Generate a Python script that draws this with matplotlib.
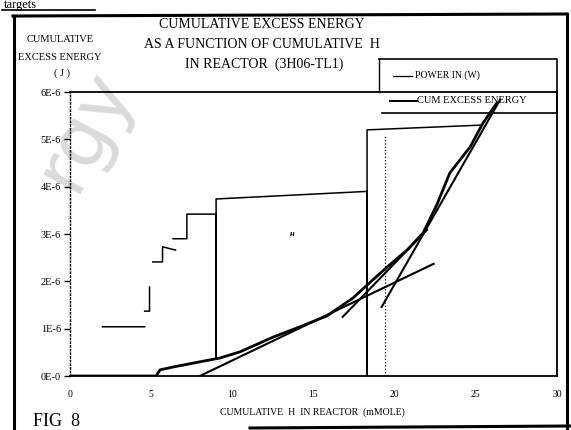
import numpy as np
import matplotlib.pyplot as plt
from matplotlib.lines import Line2D

nan = np.nan

# power in (W), stepped trace, NaN = pen lifted
power_x = [2.0, 4.6, nan, 4.6, 4.9, 4.9, nan, 5.1, 5.7, 5.7, 6.5, nan,
           6.35, 7.2, 7.2, 8.75, 9.0, 9.0, 9.0, 18.3, 18.3, 18.3, 25.3]
power_y = [1.04, 1.04, nan, 1.37, 1.37, 1.88, nan, 2.41, 2.41, 2.73, 2.66, nan,
           2.9, 2.9, 3.42, 3.42, 3.42, 0.4, 3.74, 3.9, 0.0, 5.2, 5.3]

# cumulative excess energy (J)
cum_x = [0, 5.3, 5.55, 6.35, 8.0, 9.24, 10.47, 12.5, 14.17, 15.83, 17.44,
         18.3, 19.53, 20.76, 21.75, 22.6, 23.4, 24.65, 25.45, 26.3]
cum_y = [0, 0, 0.13, 0.19, 0.30, 0.38, 0.51, 0.82, 1.04, 1.27, 1.65,
         1.92, 2.30, 2.66, 3.02, 3.62, 4.29, 4.84, 5.35, 5.77]

# straight fit lines drawn over the curve
fit_a_x, fit_a_y = [8.0, 22.4], [0.0, 2.37]
fit_b_x, fit_b_y = [16.8, 22.0], [1.25, 3.09]
fit_c_x, fit_c_y = [19.2, 26.5], [1.46, 5.84]

xticks = [0, 5, 10, 15, 20, 25, 30]
yticks = [0, 1, 2, 3, 4, 5, 6]
ylabels = ['0E-0', '1E-6', '2E-6', '3E-6', '4E-6', '5E-6', '6E-6']

scale = 1e-6
plt.rcParams['font.family'] = 'Liberation Serif'

W, H = 571, 430
fig = plt.figure(figsize=(W / 100, H / 100), dpi=100)

# watermark left over on the scan, kept behind everything
fig.text(85 / W, 1 - 130 / H, 'rgy', rotation=62, fontsize=55, color='#dadada',
         family='DejaVu Sans', ha='center', va='center', zorder=-5)

ax = fig.add_axes([70 / W, 1 - 376 / H, (557 - 70) / W, (376 - 92) / H])
ax.patch.set_alpha(0)

ax.plot(power_x, np.array(power_y) * scale, color='black', lw=1.1)
ax.plot(cum_x, np.array(cum_y) * scale, color='black', lw=2.0)
ax.plot(fit_a_x, np.array(fit_a_y) * scale, color='black', lw=1.5)
ax.plot(fit_b_x, np.array(fit_b_y) * scale, color='black', lw=1.5)
ax.plot(fit_c_x, np.array(fit_c_y) * scale, color='black', lw=1.5)
ax.plot([19.4, 19.4], [0, 5.1 * scale], color='black', lw=0.9, ls=':')
ax.text(13.7, 3.0 * scale, 'н', fontsize=6, style='italic', weight='bold',
        ha='center', va='center')

ax.set_xlim(0, 30)
ax.set_ylim(0, 6 * scale)
ax.set_xticks(xticks)
ax.set_xticklabels([str(t) for t in xticks], fontsize=7)
ax.set_yticks([t * scale for t in yticks])
ax.set_yticklabels(ylabels, fontsize=7.5)
ax.tick_params(axis='x', length=0, pad=10)
ax.tick_params(axis='y', length=4.5, width=1, pad=2)

for s in ['top', 'bottom', 'right']:
    ax.spines[s].set_linewidth(1.3)
ax.spines['left'].set_linestyle(':')
ax.spines['left'].set_linewidth(1.0)

# legend box sitting on the top edge
tr = ax.transAxes
lx0, lx1, ly0, ly1 = 0.634, 1.0, 0.926, 1.116
ax.add_line(Line2D([lx0, lx1, lx1], [ly1, ly1, 0.93], transform=tr, color='black', lw=1.2, clip_on=False))
ax.add_line(Line2D([lx0, lx0], [ly1, 1.0], transform=tr, color='black', lw=1.0, clip_on=False))
ax.add_line(Line2D([lx0 + 0.006, lx1], [ly0, ly0], transform=tr, color='black', lw=1.2, clip_on=False))
ax.add_line(Line2D([0.663, 0.702], [1.055, 1.055], transform=tr, color='black', lw=0.9, clip_on=False))
ax.text(0.708, 1.06, 'POWER IN (W)', transform=tr, fontsize=7, va='center')
ax.add_line(Line2D([0.657, 0.713], [0.97, 0.97], transform=tr, color='black', lw=1.4, clip_on=False))
ax.text(0.713, 0.97, 'CUM EXCESS ENERGY', transform=tr, fontsize=7.5, va='center')

# titles
fig.text(262 / W, 1 - 25 / H, 'CUMULATIVE EXCESS ENERGY', fontsize=10, ha='center', va='center')
fig.text(262 / W, 1 - 45 / H, 'AS A FUNCTION OF CUMULATIVE  H', fontsize=10, ha='center', va='center')
fig.text(264 / W, 1 - 64 / H, 'IN REACTOR  (3H06-TL1)', fontsize=10, ha='center', va='center')

fig.text(60 / W, 1 - 40 / H, 'CUMULATIVE', fontsize=7.5, ha='center', va='center')
fig.text(60 / W, 1 - 57 / H, 'EXCESS ENERGY', fontsize=7.5, ha='center', va='center')
fig.text(62 / W, 1 - 73 / H, '( J )', fontsize=7.5, ha='center', va='center')

fig.text(312 / W, 1 - 412 / H, 'CUMULATIVE  H  IN REACTOR  (mMOLE)', fontsize=7,
         ha='center', va='center')
fig.text(33 / W, 1 - 422 / H, 'FIG  8', fontsize=13, ha='left', va='center')

# page frame and the heading fragment above it
frame = dict(color='black', lw=2.2, transform=fig.transFigure)
fig.add_artist(Line2D([14 / W, 14 / W], [0, 1 - 16 / H], **frame))
fig.add_artist(Line2D([13 / W, 567 / W], [1 - 16 / H, 1 - 14 / H], **frame))
fig.add_artist(Line2D([567 / W, 567 / W], [1 - 14 / H, 0], **frame))
fig.add_artist(Line2D([250 / W, 571 / W], [1 - 428 / H, 1 - 426 / H], **frame))
fig.text(4 / W, 1 - 8 / H, 'targets', fontsize=9, ha='left', va='baseline')
fig.add_artist(Line2D([2 / W, 95 / W], [1 - 10 / H, 1 - 10 / H], color='black', lw=1.2,
                      transform=fig.transFigure))

fig.savefig('out.png', dpi=100)
